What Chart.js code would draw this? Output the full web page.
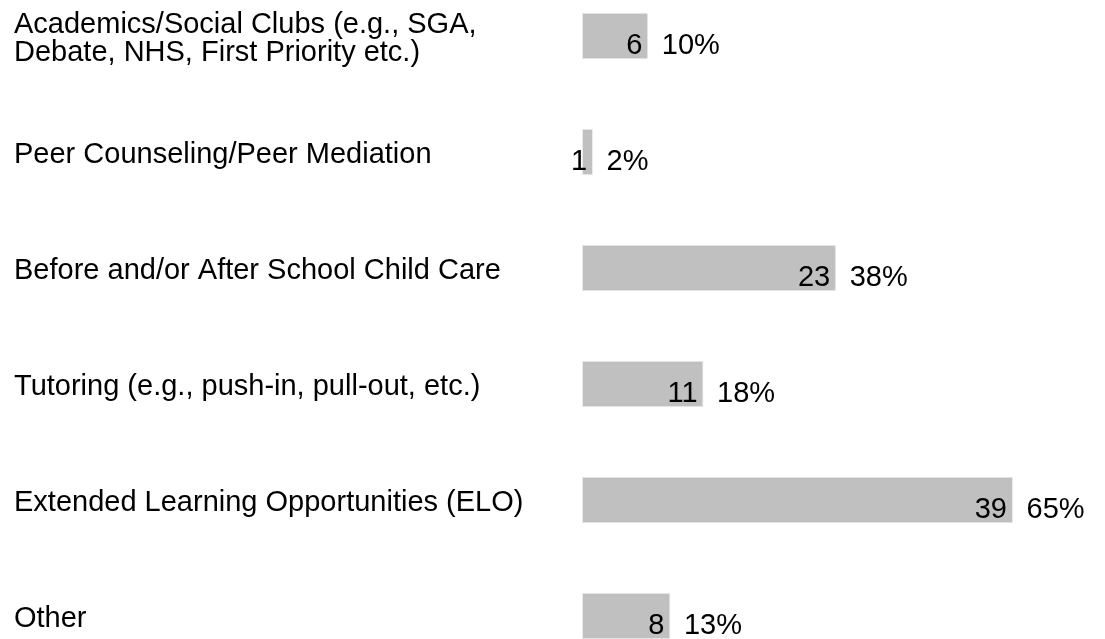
<!DOCTYPE html>
<html>
<head>
<meta charset="utf-8">
<script src="https://cdn.jsdelivr.net/npm/chart.js@4.4.1/dist/chart.umd.min.js"></script>
<style>
    html, body { margin: 0; padding: 0; background: #fff; overflow: hidden; }
    #wrap { position: absolute; left: 0; top: -22px; width: 1105px; height: 696px; }
</style>
</head>
<body>
<div id="wrap"><canvas id="graph"></canvas></div>
<script>
// Activities offered (counts and share of respondents)
const activities = [
    ["Academics/Social Clubs (e.g., SGA,", "Debate, NHS, First Priority etc.)"],
    "Peer Counseling/Peer Mediation",
    "Before and/or After School Child Care",
    "Tutoring (e.g., push-in, pull-out, etc.)",
    "Extended Learning Opportunities (ELO)",
    "Other"
];
const counts = [6, 1, 23, 11, 39, 8];
const percents = [10, 2, 38, 18, 65, 13];

Chart.defaults.font.family = "'Liberation Sans', Arial, sans-serif";
Chart.defaults.color = "#000";

// Count inside the bar end, percentage just after it
const barLabels = {
    id: "barLabels",
    afterDatasetsDraw(chart) {
        const ctx = chart.ctx;
        const meta = chart.getDatasetMeta(0);
        ctx.save();
        ctx.font = "29px 'Liberation Sans', Arial, sans-serif";
        ctx.fillStyle = "#000";
        ctx.textBaseline = "alphabetic";
        meta.data.forEach((bar, i) => {
            ctx.textAlign = "right";
            ctx.fillText(String(counts[i]), bar.x - 6, bar.y + 18);
            ctx.textAlign = "left";
            ctx.fillText(percents[i] + "%", bar.x + 13.5, bar.y + 18);
        });
        ctx.restore();
    }
};

new Chart("graph", {
    type: "bar",
    data: {
        labels: activities,
        datasets: [{
            data: counts,
            backgroundColor: "#c0c0c0",
            borderColor: "#ececec",
            borderWidth: 1,
            borderSkipped: false,
            barPercentage: 0.4,
            categoryPercentage: 1
        }]
    },
    options: {
        indexAxis: "y",
        responsive: true,
        maintainAspectRatio: false,
        animation: false,
        layout: { autoPadding: false, padding: { left: 14, right: 92, top: 0, bottom: 0 } },
        scales: {
            x: {
                display: false,
                min: 0,
                max: 39
            },
            y: {
                grid: { display: false },
                border: { display: false },
                afterFit: (scale) => {
                    scale.width = 568;
                    scale.paddingTop = 0;
                    scale.paddingBottom = 0;
                },
                ticks: {
                    crossAlign: "far",
                    labelOffset: 3,
                    autoSkip: false,
                    color: "#000",
                    font: { size: 29, lineHeight: "28px" }
                }
            }
        },
        plugins: {
            legend: { display: false },
            tooltip: { enabled: false }
        }
    },
    plugins: [barLabels]
});
</script>
</body>
</html>
